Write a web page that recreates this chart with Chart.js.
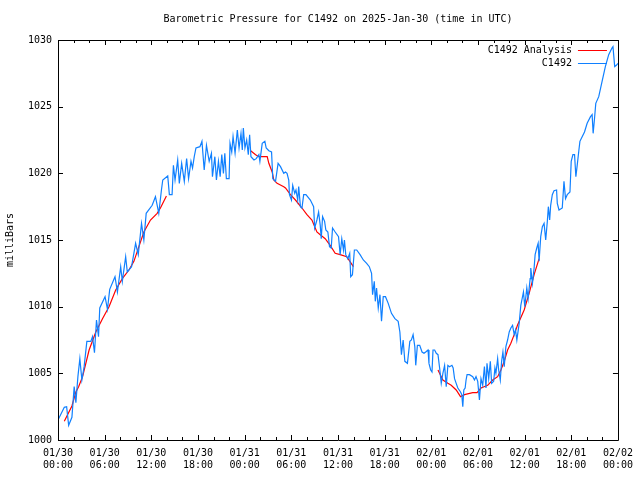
<!DOCTYPE html>
<html>
<head>
<meta charset="utf-8">
<script src="https://cdn.jsdelivr.net/npm/chart.js@4"></script>
<style>
  body { margin: 0; background: #fff; }
  canvas { display: block; }
</style>
</head>
<body>
<canvas id="myChart" width="640" height="480"></canvas>
<script>
// hours since 2025-01-30 00:00 UTC
const obsHours = [
  0, 0.81, 1.11, 1.37, 1.79, 2.08, 2.30, 2.56, 2.81, 3.07,
  3.36, 3.71, 4.22, 4.44, 4.69, 4.95, 5.21, 5.37, 6.05, 6.36,
  6.65, 7.33, 7.64, 8.06, 8.27, 8.70, 8.91, 9.46, 9.98, 10.32,
  10.74, 11.04, 11.34, 12.11, 12.53, 12.96, 13.30, 13.47, 14.11, 14.32,
  14.67, 14.84, 15.05, 15.39, 15.60, 15.90, 16.24, 16.54, 16.79, 17.10,
  17.30, 17.52, 17.74, 18.25, 18.51, 18.80, 19.09, 19.44, 19.73, 19.86,
  20.17, 20.37, 20.63, 20.85, 21.06, 21.27, 21.45, 21.65, 22.00, 22.12,
  22.34, 22.51, 22.77, 23.06, 23.28, 23.53, 23.70, 23.83, 24.04, 24.26,
  24.47, 24.64, 24.81, 25.20, 25.49, 25.83, 25.96, 26.26, 26.60, 26.77,
  27.11, 27.46, 27.62, 27.97, 28.30, 28.61, 29.03, 29.25, 29.45, 29.67,
  29.76, 30.02, 30.18, 30.44, 30.60, 30.82, 30.95, 31.17, 31.37, 31.59,
  31.88, 32.45, 32.87, 33.00, 33.29, 33.51, 33.72, 33.85, 34.02, 34.28,
  34.44, 34.70, 34.91, 35.13, 35.30, 35.64, 36.07, 36.28, 36.49, 36.71,
  36.83, 37.00, 37.26, 37.51, 37.64, 37.86, 38.11, 38.41, 38.84, 39.26,
  39.69, 40.03, 40.32, 40.45, 40.67, 40.80, 40.96, 41.18, 41.40, 41.60,
  41.82, 42.11, 42.46, 42.88, 43.32, 43.74, 43.96, 44.16, 44.38, 44.60,
  44.93, 45.24, 45.44, 45.66, 45.88, 46.00, 46.21, 46.51, 46.81, 47.06,
  47.28, 47.58, 47.70, 47.92, 48.09, 48.22, 48.43, 48.64, 48.86, 49.07,
  49.28, 49.49, 49.71, 49.92, 50.13, 50.35, 50.65, 50.81, 50.99, 51.20,
  51.41, 51.76, 51.92, 52.05, 52.18, 52.35, 52.47, 52.60, 52.91, 53.33,
  53.55, 53.75, 53.97, 54.19, 54.39, 54.61, 54.83, 55.03, 55.16, 55.38,
  55.59, 55.76, 56.02, 56.18, 56.31, 56.53, 56.66, 56.87, 57.04, 57.21,
  57.38, 57.59, 57.81, 58.02, 58.23, 58.45, 58.66, 58.83, 59.00, 59.30,
  59.51, 59.85, 60.02, 60.28, 60.45, 60.71, 60.79, 61.01, 61.22, 61.35,
  61.56, 61.74, 61.86, 62.07, 62.28, 62.50, 62.71, 62.92, 63.05, 63.22,
  63.35, 63.56, 63.78, 64.11, 64.20, 64.42, 64.84, 65.06, 65.26, 65.48,
  65.83, 65.99, 66.21, 66.42, 66.59, 66.76, 66.98, 67.11, 67.40, 67.70,
  68.04, 68.47, 68.68, 68.81, 68.97, 69.15, 69.53, 69.96, 70.38, 70.81,
  71.23, 71.36, 71.58, 71.79, 72.0
];

const obsValues = [
  1001.5, 1002.45, 1002.5, 1001.1, 1001.7, 1004.0, 1002.8, 1004.75, 1006.1, 1004.5,
  1005.5, 1007.4, 1007.4, 1007.75, 1006.55, 1009.0, 1007.75, 1009.9, 1010.75, 1009.8,
  1011.3, 1012.25, 1011.1, 1013.0, 1011.9, 1013.75, 1012.6, 1013.0, 1014.75, 1013.9,
  1016.25, 1015.0, 1017.0, 1017.6, 1018.25, 1017.0, 1018.75, 1019.5, 1019.8, 1018.4,
  1018.4, 1020.6, 1019.5, 1021.0, 1019.25, 1020.75, 1019.4, 1021.1, 1019.6, 1020.9,
  1020.4, 1021.25, 1021.9, 1022.0, 1022.4, 1020.25, 1022.1, 1020.9, 1021.5, 1019.75,
  1021.25, 1019.5, 1020.9, 1019.75, 1021.4, 1020.0, 1021.5, 1019.6, 1019.6, 1022.25,
  1021.6, 1022.75, 1021.5, 1023.25, 1021.9, 1023.0, 1021.75, 1023.4, 1021.9, 1022.5,
  1021.4, 1022.9, 1021.25, 1021.0, 1021.1, 1021.4, 1020.9, 1022.25, 1022.4, 1021.9,
  1021.7, 1021.6, 1019.6, 1019.4, 1020.75, 1020.5, 1020.0, 1020.1, 1020.0, 1019.5,
  1018.4, 1018.0, 1019.1, 1018.5, 1018.75, 1018.0, 1019.0, 1017.5, 1017.4, 1018.4,
  1018.4, 1018.0, 1017.5, 1015.9, 1016.5, 1017.1, 1016.1, 1015.1, 1016.75, 1016.4,
  1015.75, 1015.6, 1014.5, 1014.4, 1015.9, 1015.6, 1015.25, 1013.9, 1015.1, 1014.25,
  1015.0, 1013.9, 1013.6, 1014.0, 1012.25, 1012.4, 1014.25, 1014.25, 1013.9, 1013.5,
  1013.25, 1013.0, 1012.5, 1010.9, 1011.9, 1010.4, 1011.4, 1009.9, 1010.9, 1008.9,
  1010.75, 1010.75, 1010.25, 1009.5, 1009.1, 1008.9, 1008.1, 1006.4, 1007.5, 1005.9,
  1005.75, 1007.4, 1007.5, 1007.9, 1007.0, 1005.6, 1007.1, 1007.1, 1006.6, 1006.5,
  1006.6, 1006.75, 1005.75, 1005.25, 1005.1, 1006.75, 1006.75, 1006.5, 1006.4, 1005.4,
  1004.25, 1005.0, 1005.6, 1004.0, 1005.6, 1005.5, 1005.6, 1005.4, 1004.6, 1004.25,
  1003.9, 1003.6, 1003.4, 1002.5, 1003.75, 1003.9, 1004.5, 1004.9, 1004.9, 1004.75,
  1004.5, 1004.75, 1004.4, 1003.0, 1004.6, 1004.1, 1005.5, 1003.9, 1005.75, 1004.6,
  1005.9, 1004.25, 1004.4, 1005.4, 1005.0, 1006.1, 1005.25, 1004.5, 1005.9, 1006.6,
  1005.5, 1007.0, 1007.5, 1008.1, 1008.4, 1008.6, 1007.9, 1008.25, 1007.5, 1008.75,
  1010.1, 1011.1, 1010.0, 1011.4, 1010.6, 1012.1, 1012.9, 1011.75, 1012.9, 1013.9,
  1014.4, 1014.75, 1013.4, 1015.25, 1016.0, 1016.25, 1015.0, 1016.4, 1017.5, 1016.5,
  1017.6, 1018.4, 1018.7, 1018.75, 1017.75, 1017.25, 1017.4, 1019.4, 1018.1, 1018.4,
  1018.6, 1020.9, 1021.4, 1021.4, 1019.75, 1020.6, 1021.75, 1022.4, 1022.75, 1023.1,
  1023.75, 1024.25, 1024.4, 1023.0, 1024.0, 1025.25, 1025.75, 1026.9, 1028.0, 1028.9,
  1029.4, 1029.5, 1028.0, 1028.1, 1028.25
];

// analysis curve, null value = gap between runs
const anaHours = [
  0.81, 1.79, 2.30, 2.65, 3.16, 4.00, 4.86, 5.72, 6.56, 7.42,
  8.27, 9.12, 9.76, 10.40, 11.04, 11.89, 12.75, 13.17, 13.94,
  19.0,
  24.77, 25.41, 25.83, 26.90, 27.11, 27.54, 27.75, 28.17, 29.03, 29.25,
  29.89, 30.53, 31.37, 32.01, 32.65, 33.29, 33.72, 34.36, 35.00, 35.64,
  36.28, 37.13, 37.98,
  43.0,
  48.86, 49.49, 50.13, 50.56, 51.20, 51.76, 52.27, 53.33, 53.88, 54.39,
  55.25, 55.89, 56.53, 56.95, 57.38, 57.81, 58.23, 58.66, 59.08, 59.94,
  60.58, 61.22, 61.86
];

const anaValues = [
  1001.4, 1002.55, 1003.6, 1004.0, 1004.75, 1006.75, 1008.1, 1009.1, 1010.0, 1011.25,
  1012.1, 1012.75, 1013.4, 1014.5, 1015.6, 1016.5, 1017.0, 1017.4, 1018.3,
  null,
  1021.7, 1021.4, 1021.25, 1021.25, 1020.75, 1020.1, 1019.5, 1019.25, 1019.0, 1018.9,
  1018.4, 1018.0, 1017.4, 1016.9, 1016.5, 1015.6, 1015.4, 1015.1, 1014.6, 1014.0,
  1013.9, 1013.75, 1013.0,
  null,
  1005.25, 1004.5, 1004.25, 1004.1, 1003.75, 1003.25, 1003.4, 1003.55, 1003.55, 1003.9,
  1004.1, 1004.5, 1004.75, 1005.25, 1005.9, 1006.75, 1007.25, 1007.9, 1008.6, 1009.75,
  1011.0, 1012.4, 1013.6
];

const xTickLabels = ['01/30', '01/30', '01/30', '01/30', '01/31', '01/31', '01/31', '01/31',
  '02/01', '02/01', '02/01', '02/01', '02/02'];
const xTickTimes = ['00:00', '06:00', '12:00', '18:00'];

const seriesNames = ['C1492 Analysis', 'C1492'];
const seriesColors = ['rgb(255, 0, 0)', 'rgb(16, 128, 255)'];
const chartTitle = 'Barometric Pressure for C1492 on 2025-Jan-30 (time in UTC)';

const monoFont = '"DejaVu Sans Mono", "Liberation Mono", monospace';

const toPoints = (xs, ys) => xs.map((x, i) => ({ x: x, y: ys[i] }));

// frame, inward tics, title and gnuplot-style key
const gnuplotDecor = {
  id: 'gnuplotDecor',
  afterDraw(chart) {
    const ctx = chart.ctx;
    const area = chart.chartArea;
    const xs = chart.scales.x;
    const ys = chart.scales.y;
    ctx.save();
    ctx.strokeStyle = '#000';
    ctx.lineWidth = 1;
    ctx.beginPath();
    ctx.rect(Math.round(area.left) + 0.5, Math.round(area.top) + 0.5,
      Math.round(area.right - area.left), Math.round(area.bottom - area.top));
    for (let h = 0; h <= 72; h += 2) {
      const px = Math.round(xs.getPixelForValue(h)) + 0.5;
      const len = h % 6 === 0 ? 5 : 3;
      ctx.moveTo(px, area.bottom);
      ctx.lineTo(px, area.bottom - len);
      ctx.moveTo(px, area.top);
      ctx.lineTo(px, area.top + len);
    }
    for (let v = 1000; v <= 1030; v += 5) {
      const py = Math.round(ys.getPixelForValue(v)) + 0.5;
      ctx.moveTo(area.left, py);
      ctx.lineTo(area.left + 5, py);
      ctx.moveTo(area.right, py);
      ctx.lineTo(area.right - 5, py);
    }
    ctx.stroke();

    ctx.fillStyle = '#000';
    ctx.font = '10px ' + monoFont;
    ctx.textAlign = 'center';
    ctx.textBaseline = 'middle';
    ctx.fillText(chartTitle, (area.left + area.right) / 2, 19);

    ctx.textAlign = 'right';
    seriesNames.forEach((name, i) => {
      const y = area.top + 10 + i * 13;
      ctx.fillStyle = '#000';
      ctx.fillText(name, area.right - 46, y);
      ctx.strokeStyle = seriesColors[i];
      ctx.beginPath();
      ctx.moveTo(area.right - 40, Math.round(y) + 0.5);
      ctx.lineTo(area.right - 11, Math.round(y) + 0.5);
      ctx.stroke();
    });
    ctx.restore();
  }
};

const config = {
  type: 'line',
  data: {
    datasets: [{
      label: seriesNames[1],
      data: toPoints(obsHours, obsValues),
      borderColor: seriesColors[1],
      borderWidth: 1.2,
      pointRadius: 0,
      tension: 0
    }, {
      label: seriesNames[0],
      data: toPoints(anaHours, anaValues),
      borderColor: seriesColors[0],
      borderWidth: 1.2,
      pointRadius: 0,
      tension: 0,
      spanGaps: false
    }]
  },
  options: {
    responsive: false,
    animation: false,
    layout: { padding: { top: 40, right: 19, left: 0, bottom: 0 }, autoPadding: false },
    plugins: {
      legend: { display: false },
      title: { display: false },
      tooltip: { enabled: false }
    },
    scales: {
      x: {
        type: 'linear',
        min: 0,
        max: 72,
        afterFit: (scale) => { scale.height = 40; },
        afterBuildTicks: (scale) => {
          scale.ticks = xTickLabels.map((d, i) => ({ value: i * 6 }));
        },
        grid: { display: false, drawTicks: false },
        border: { display: false },
        ticks: {
          maxRotation: 0,
          autoSkip: false,
          padding: 7,
          color: '#000',
          font: { family: monoFont, size: 10 },
          callback: (value) => {
            const i = Math.round(value / 6);
            return [xTickLabels[i], xTickTimes[i % 4]];
          }
        }
      },
      y: {
        min: 1000,
        max: 1030,
        afterFit: (scale) => { scale.width = 58; },
        grid: { display: false, drawTicks: false },
        border: { display: false },
        ticks: {
          stepSize: 5,
          padding: 6,
          color: '#000',
          font: { family: monoFont, size: 10 },
          callback: (value) => String(value)
        },
        title: {
          display: true,
          text: 'milliBars',
          color: '#000',
          padding: { top: 4, bottom: 4 },
          font: { family: monoFont, size: 10 }
        }
      }
    }
  },
  plugins: [gnuplotDecor]
};

const myChart = new Chart(document.getElementById('myChart'), config);
</script>
</body>
</html>
